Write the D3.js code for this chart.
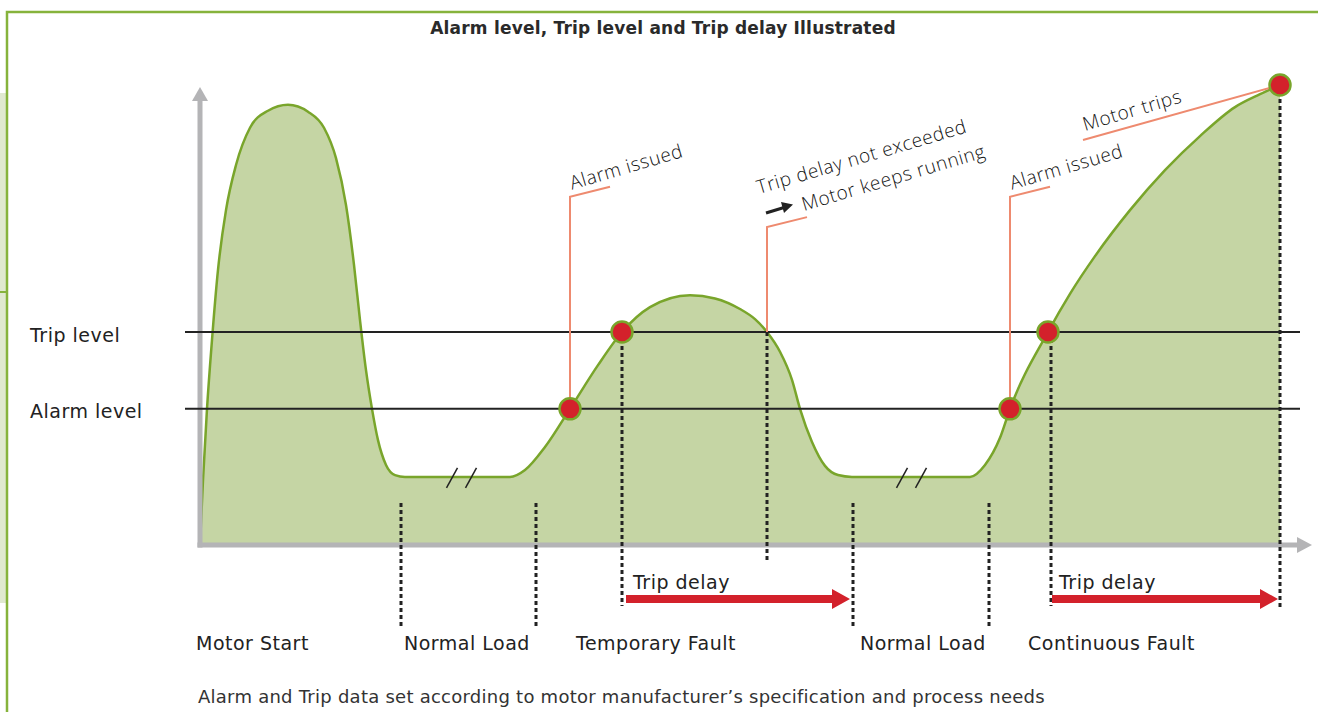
<!DOCTYPE html>
<html>
<head>
<meta charset="utf-8">
<script src="https://cdn.jsdelivr.net/npm/d3@7"></script>
<style>
  body { margin: 0; background: #fff; }
  svg { display: block; font-family: "DejaVu Sans", sans-serif; }
</style>
</head>
<body>
<svg class="chart" width="1318" height="712"></svg>
<script>
// motor current over time (level in % of full scale, time in arbitrary units)
var time = [0, 0.3, 0.7, 1.2, 1.8, 2.6, 3.6, 5, 6.8, 8.8, 10.8, 12.4, 13.6, 14.6, 15.4, 16, 16.6, 17.2, 17.8, 18.6, 19.5, 20.5,
  31, 32.5, 34.5, 37, 39.8, 42.2, 45, 49, 51.5, 54, 55.5, 56.7, 58, 59.2, 60, 61.2, 62.5, 63.8, 65.2,
  77, 78.5, 80, 81, 84.8, 87, 89.5, 93, 96.5, 100, 103.5, 106, 108];
var level = [0, 14.1, 29.6, 44.6, 59.8, 72.8, 82.6, 90.7, 94.4, 95.7, 94.2, 90.7, 84.1, 73.9, 60.9, 48.9, 38, 29.6, 22.8, 17.4, 15.2, 14.8,
  14.8, 16.3, 21.3, 29.6, 39.1, 46.3, 51.7, 54.3, 53.6, 51.3, 49.1, 46.3, 42, 35.9, 29.6, 22.4, 17.2, 15.2, 14.8,
  14.8, 17.4, 23.3, 29.6, 46.3, 54.6, 62.8, 72.8, 81.5, 88.9, 95.2, 98, 100];

var tripLevel = 46.3;
var alarmLevel = 29.6;

// red markers where the curve crosses a level
var eventTime = [37, 42.2, 81, 84.8, 108];
var eventLevel = [alarmLevel, tripLevel, alarmLevel, tripLevel, 100];

var phaseNames = ["Motor Start", "Normal Load", "Temporary Fault", "Normal Load", "Continuous Fault"];
var phaseStart = [-0.4, 20.4, 37.6, 66, 82.8];
var phaseMarks = [20.1, 33.6, 65.3, 78.9];
var breakMarks = [25.2, 27.1, 70.2, 72.1];

var delayStart = [42.6, 85.2];
var delayEnd = [65, 107.8];

var svg = d3.select(".chart");

var x = d3.scaleLinear().domain([0, 110]).range([200, 1300]);
var y = d3.scaleLinear().domain([0, 100]).range([545, 85]);

var green = "#79a52b", red = "#d3212b", salmon = "#ee8a6f", ink = "#222";

// frame
svg.append("rect").attr("x", 0).attr("y", 93).attr("width", 7).attr("height", 510).attr("fill", "#e0e9d0");
svg.append("line").attr("x1", 0).attr("x2", 7).attr("y1", 292).attr("y2", 292).attr("stroke", "#86b33c").attr("stroke-width", 2);
svg.append("path")
  .attr("d", "M7,712 V12 H1318")
  .attr("fill", "none")
  .attr("stroke", "#86b33c")
  .attr("stroke-width", 2.5);

svg.append("text")
  .attr("x", 663)
  .attr("y", 34)
  .attr("text-anchor", "middle")
  .attr("font-size", 17)
  .attr("font-weight", "bold")
  .attr("letter-spacing", 0.2)
  .attr("fill", "#2a2a2a")
  .text("Alarm level, Trip level and Trip delay Illustrated");

var pts = time.map(function (t, i) { return [t, level[i]]; });

svg.append("path")
  .datum(pts)
  .attr("fill", "#c5d5a4")
  .attr("d", d3.area()
    .curve(d3.curveMonotoneX)
    .x(function (d) { return x(d[0]); })
    .y0(y(0))
    .y1(function (d) { return y(d[1]); }));

svg.append("path")
  .datum(pts)
  .attr("fill", "none")
  .attr("stroke", green)
  .attr("stroke-width", 2.5)
  .attr("d", d3.line()
    .curve(d3.curveMonotoneX)
    .x(function (d) { return x(d[0]); })
    .y(function (d) { return y(d[1]); }));

// axes (plain arrows, no ticks)
var axisCol = "#b4b4b6";
svg.append("line").attr("x1", x(0)).attr("x2", x(0)).attr("y1", y(0) + 2.5).attr("y2", 100)
  .attr("stroke", axisCol).attr("stroke-width", 5);
svg.append("path").attr("d", "M" + (x(0) - 8) + ",101 L" + x(0) + ",87 L" + (x(0) + 8) + ",101 Z").attr("fill", axisCol);
svg.append("line").attr("x1", x(0) - 2.5).attr("x2", 1298).attr("y1", y(0)).attr("y2", y(0))
  .attr("stroke", axisCol).attr("stroke-width", 5);
svg.append("path").attr("d", "M1297," + (y(0) - 8) + " L1312," + y(0) + " L1297," + (y(0) + 8) + " Z").attr("fill", axisCol);

// level lines
[tripLevel, alarmLevel].forEach(function (v, i) {
  svg.append("line")
    .attr("x1", 185).attr("x2", 1300)
    .attr("y1", y(v)).attr("y2", y(v))
    .attr("stroke", ink).attr("stroke-width", 2);
  svg.append("text")
    .attr("x", 30).attr("y", y(v) + 3).attr("dy", "0.35em")
    .attr("font-size", 19).attr("letter-spacing", 0.5).attr("fill", ink)
    .text(i === 0 ? "Trip level" : "Alarm level");
});

// dotted phase separators
var dotted = svg.append("g")
  .attr("stroke", ink).attr("stroke-width", 3).attr("stroke-dasharray", "4,3");
phaseMarks.forEach(function (t) {
  dotted.append("line").attr("x1", x(t)).attr("x2", x(t)).attr("y1", 503).attr("y2", 626);
});
dotted.append("line").attr("x1", x(42.2)).attr("x2", x(42.2)).attr("y1", y(tripLevel)).attr("y2", 606);
dotted.append("line").attr("x1", x(56.7)).attr("x2", x(56.7)).attr("y1", y(tripLevel)).attr("y2", 561);
dotted.append("line").attr("x1", x(85.1)).attr("x2", x(85.1)).attr("y1", y(tripLevel)).attr("y2", 606);
dotted.append("line").attr("x1", x(108)).attr("x2", x(108)).attr("y1", y(100)).attr("y2", 610);

// break marks on the normal load plateau
breakMarks.forEach(function (t) {
  svg.append("line")
    .attr("x1", x(t) - 5.5).attr("y1", y(14.8) + 11)
    .attr("x2", x(t) + 5.5).attr("y2", y(14.8) - 9)
    .attr("stroke", ink).attr("stroke-width", 1.5);
});

// annotation leaders
function elbow(t, v, top) {
  var px = x(t), py = y(top);
  return "M" + px + "," + y(v) + " V" + py + " L" + (px + 40) + "," + (py - 10);
}
var lead = svg.append("g").attr("fill", "none").attr("stroke", salmon).attr("stroke-width", 2);
lead.append("path").attr("d", elbow(37, alarmLevel, 75.7));
lead.append("path").attr("d", elbow(56.7, tripLevel, 69.1));
lead.append("path").attr("d", elbow(81, alarmLevel, 75.7));
lead.append("path").attr("d", "M" + x(108) + "," + y(100) + " L1083,140");

function note(px, py, txt) {
  svg.append("text")
    .attr("transform", "translate(" + px + "," + py + ") rotate(-16.5)")
    .attr("font-family", "'Open Sans', sans-serif")
    .attr("font-size", 19).attr("font-weight", 300).attr("letter-spacing", 0.6).attr("fill", "#111")
    .text(txt);
}
note(x(37) + 2, y(75.7) - 7, "Alarm issued");
note(x(81) + 2, y(75.7) - 7, "Alarm issued");
note(759, 194, "Trip delay not exceeded");
note(804, 211, "Motor keeps running");
note(1085, 131, "Motor trips");
svg.append("line").attr("x1", 766).attr("y1", 213).attr("x2", 784).attr("y2", 207.5)
  .attr("stroke", ink).attr("stroke-width", 3);
svg.append("path").attr("d", "M781,202 L793,204.5 L784,213 Z").attr("fill", ink);

// event markers
svg.append("g")
  .selectAll("circle")
  .data(eventTime)
  .enter()
  .append("circle")
  .attr("cx", function (d) { return x(d); })
  .attr("cy", function (d, i) { return y(eventLevel[i]); })
  .attr("r", 10.5)
  .attr("fill", red)
  .attr("stroke", green)
  .attr("stroke-width", 2.5);

// trip delay arrows
delayStart.forEach(function (t, i) {
  var x0 = x(t), x1 = x(delayEnd[i]), yy = 599;
  svg.append("path")
    .attr("d", "M" + x0 + "," + (yy - 4) + " H" + (x1 - 18) + " V" + (yy - 10) + " L" + x1 + "," + yy +
      " L" + (x1 - 18) + "," + (yy + 10) + " V" + (yy + 4) + " H" + x0 + " Z")
    .attr("fill", red);
  svg.append("text")
    .attr("x", x0 + 7).attr("y", yy - 10)
    .attr("font-size", 19).attr("letter-spacing", 0.5).attr("fill", ink)
    .text("Trip delay");
});

// phase names
svg.append("g")
  .selectAll("text")
  .data(phaseNames)
  .enter()
  .append("text")
  .attr("x", function (d, i) { return x(phaseStart[i]); })
  .attr("y", 650)
  .attr("font-size", 19)
  .attr("letter-spacing", 0.5)
  .attr("fill", ink)
  .text(function (d) { return d; });

svg.append("text")
  .attr("x", 198).attr("y", 703)
  .attr("font-size", 18).attr("letter-spacing", 0.25).attr("fill", "#333")
  .text("Alarm and Trip data set according to motor manufacturer\u2019s specification and process needs");
</script>
</body>
</html>
